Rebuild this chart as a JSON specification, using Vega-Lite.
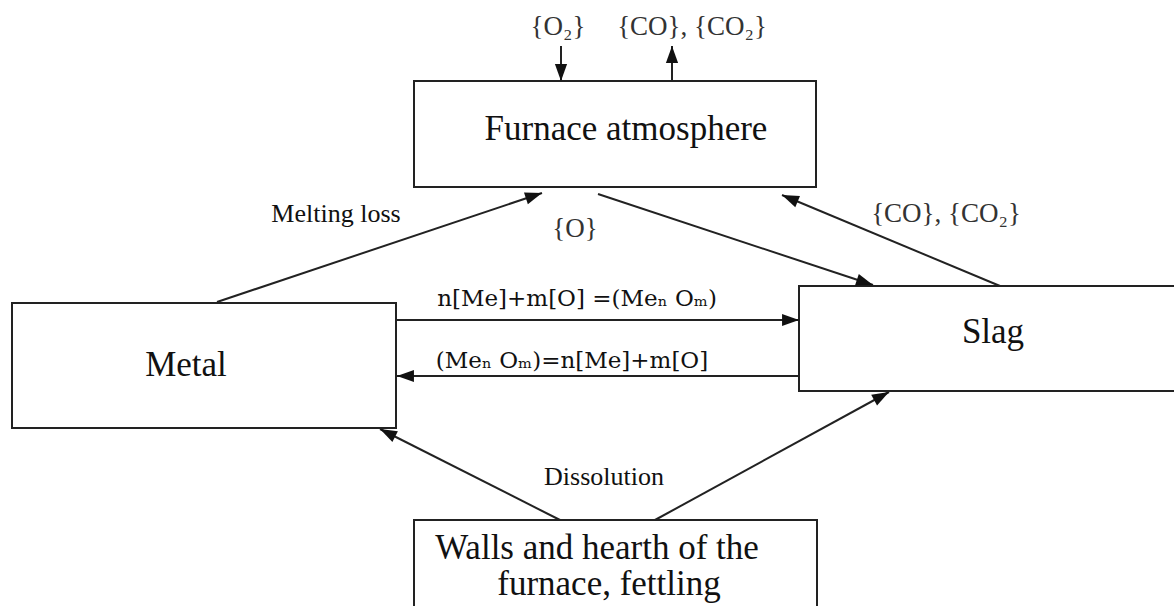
{
  "$schema": "https://vega.github.io/schema/vega-lite/v6.json",
  "width": 1174,
  "height": 606,
  "padding": 0,
  "autosize": {"type": "fit", "contains": "padding"},
  "background": "white",
  "config": {"view": {"stroke": null}},
  "datasets": {
    "boxes": [
      {"name": "Furnace atmosphere", "x": 414, "x2": 816, "y": 81, "y2": 187},
      {"name": "Metal", "x": 12, "x2": 396, "y": 303, "y2": 428},
      {"name": "Slag", "x": 799, "x2": 1190, "y": 286, "y2": 391},
      {"name": "Walls", "x": 414, "x2": 817, "y": 520, "y2": 640}
    ],
    "arrows": [
      {"id": "O2 in", "x": 561, "y": 46, "x2": 561, "y2": 81},
      {"id": "CO out", "x": 672, "y": 81, "x2": 672, "y2": 46},
      {"id": "Melting loss", "x": 217, "y": 302, "x2": 542, "y2": 193},
      {"id": "O to slag", "x": 598, "y": 194, "x2": 873, "y2": 285},
      {"id": "CO from slag", "x": 1000, "y": 286, "x2": 782, "y2": 195},
      {"id": "Oxidation", "x": 396, "y": 320, "x2": 799, "y2": 320},
      {"id": "Reduction", "x": 799, "y": 376, "x2": 397, "y2": 376},
      {"id": "Walls to metal", "x": 560, "y": 520, "x2": 380, "y2": 429},
      {"id": "Walls to slag", "x": 655, "y": 520, "x2": 889, "y2": 392}
    ],
    "texts": [
      {"text": "Furnace atmosphere", "x": 626, "y": 140, "role": "box"},
      {"text": "Metal", "x": 186, "y": 376, "role": "box"},
      {"text": "Slag", "x": 993, "y": 343, "role": "box"},
      {"text": "Walls and hearth of the", "x": 597, "y": 559, "role": "box"},
      {"text": "furnace, fettling", "x": 609, "y": 595, "role": "box"},
      {"text": "Melting loss", "x": 336, "y": 222, "role": "label"},
      {"text": "Dissolution", "x": 604, "y": 485, "role": "label"},
      {"text": "{O₂}", "x": 558, "y": 35, "role": "chem"},
      {"text": "{CO}, {CO₂}", "x": 692, "y": 35, "role": "chem"},
      {"text": "{O}", "x": 575, "y": 237, "role": "chem"},
      {"text": "{CO}, {CO₂}", "x": 946, "y": 222, "role": "chem"},
      {"text": "n[Me]+m[O] =(Meₙ Oₘ)", "x": 577, "y": 306, "role": "eq"},
      {"text": "(Meₙ Oₘ)=n[Me]+m[O]", "x": 572, "y": 368, "role": "eq"}
    ]
  },
  "layer": [
    {
      "data": {"name": "boxes"},
      "mark": {"type": "rect", "fill": "white", "stroke": "#222", "strokeWidth": 2, "clip": true},
      "encoding": {
        "x": {"field": "x", "type": "quantitative", "scale": {"domain": [0, 1174], "nice": false, "zero": false}, "axis": null},
        "x2": {"field": "x2"},
        "y": {"field": "y", "type": "quantitative", "scale": {"domain": [0, 606], "nice": false, "zero": false, "reverse": true}, "axis": null},
        "y2": {"field": "y2"}
      }
    },
    {
      "data": {"name": "arrows"},
      "mark": {"type": "rule", "stroke": "#222", "strokeWidth": 2},
      "encoding": {
        "x": {"field": "x", "type": "quantitative"},
        "x2": {"field": "x2"},
        "y": {"field": "y", "type": "quantitative"},
        "y2": {"field": "y2"}
      }
    },
    {
      "data": {"name": "arrows"},
      "transform": [
        {"calculate": "atan2(datum.x2 - datum.x, -(datum.y2 - datum.y)) * 180 / PI", "as": "angle"}
      ],
      "mark": {"type": "point", "shape": "M0,0L-0.36,1L0.36,1Z", "filled": true, "color": "#111", "opacity": 1, "size": 1150},
      "encoding": {
        "x": {"field": "x2", "type": "quantitative"},
        "y": {"field": "y2", "type": "quantitative"},
        "angle": {"field": "angle", "type": "quantitative", "scale": null}
      }
    },
    {
      "data": {"name": "texts"},
      "transform": [{"filter": "datum.role == 'box'"}],
      "mark": {"type": "text", "font": "Liberation Serif", "fontSize": 35, "align": "center", "baseline": "alphabetic", "color": "#111"},
      "encoding": {
        "x": {"field": "x", "type": "quantitative"},
        "y": {"field": "y", "type": "quantitative"},
        "text": {"field": "text"}
      }
    },
    {
      "data": {"name": "texts"},
      "transform": [{"filter": "datum.role == 'label'"}],
      "mark": {"type": "text", "font": "Liberation Serif", "fontSize": 26, "align": "center", "baseline": "alphabetic", "color": "#111"},
      "encoding": {
        "x": {"field": "x", "type": "quantitative"},
        "y": {"field": "y", "type": "quantitative"},
        "text": {"field": "text"}
      }
    },
    {
      "data": {"name": "texts"},
      "transform": [{"filter": "datum.role == 'chem'"}],
      "mark": {"type": "text", "font": "Liberation Serif", "fontSize": 27, "align": "center", "baseline": "alphabetic", "color": "#333"},
      "encoding": {
        "x": {"field": "x", "type": "quantitative"},
        "y": {"field": "y", "type": "quantitative"},
        "text": {"field": "text"}
      }
    },
    {
      "data": {"name": "texts"},
      "transform": [{"filter": "datum.role == 'eq'"}],
      "mark": {"type": "text", "font": "DejaVu Serif", "fontSize": 23, "align": "center", "baseline": "alphabetic", "color": "#111"},
      "encoding": {
        "x": {"field": "x", "type": "quantitative"},
        "y": {"field": "y", "type": "quantitative"},
        "text": {"field": "text"}
      }
    }
  ]
}
